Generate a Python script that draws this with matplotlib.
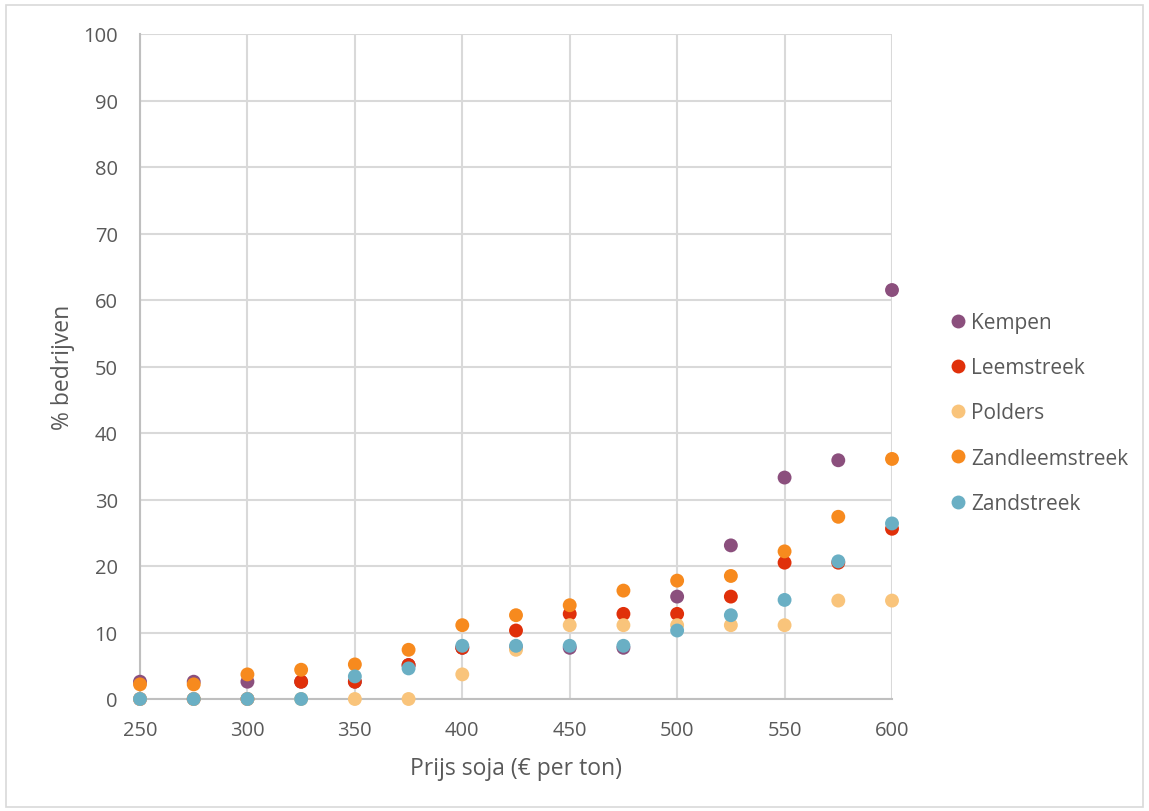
import matplotlib
matplotlib.use("Agg")
import matplotlib.pyplot as plt
from matplotlib.patches import Rectangle
from matplotlib.lines import Line2D

plt.rcParams['font.family'] = ['Open Sans', 'DejaVu Sans']

prices = [250, 275, 300, 325, 350, 375, 400, 425, 450, 475, 500, 525, 550, 575, 600]
kempen = [2.6, 2.6, 2.6, 2.6, 2.6, 5.1, 7.7, 7.7, 7.7, 7.7, 15.4, 23.1, 33.3, 35.9, 61.5]
leemstreek = [0, 0, 0, 2.6, 2.6, 5.1, 7.7, 10.3, 12.8, 12.8, 12.8, 15.4, 20.5, 20.5, 25.6]
polders = [0, 0, 0, 0, 0, 0, 3.7, 7.4, 11.1, 11.1, 11.1, 11.1, 11.1, 14.8, 14.8]
zandleem = [2.2, 2.2, 3.7, 4.4, 5.2, 7.4, 11.1, 12.6, 14.1, 16.3, 17.8, 18.5, 22.2, 27.4, 36.1]
zandstreek = [0, 0, 0, 0, 3.4, 4.6, 8.0, 8.0, 8.0, 8.0, 10.3, 12.6, 14.9, 20.7, 26.4]

series = [
    ("Kempen", kempen, "#8B4F7D"),
    ("Leemstreek", leemstreek, "#E0300A"),
    ("Polders", polders, "#F9C47B"),
    ("Zandleemstreek", zandleem, "#F78A1E"),
    ("Zandstreek", zandstreek, "#6AAFC4"),
]

fig = plt.figure(figsize=(11.49, 8.12), dpi=100)
ax = fig.add_axes([140/1149, 1-700/812, (892-140)/1149, (700-35)/812])

for name, vals, col in series:
    ax.scatter(prices, vals, s=100, color=col, edgecolors='none', label=name, zorder=3, clip_on=False)

ax.set_xlim(250, 600)
ax.set_ylim(0, 100)
ax.set_xticks(range(250, 601, 50))
ax.set_yticks(range(0, 101, 10))
ax.grid(True, color="#D9D9D9", linewidth=1.5, zorder=0)
ax.set_axisbelow(True)
for side in ['top', 'right']:
    ax.spines[side].set_visible(False)
for side in ['left', 'bottom']:
    ax.spines[side].set_color("#BFBFBF")
    ax.spines[side].set_linewidth(1.5)
ax.tick_params(length=0, labelsize=14.5, colors="#595959")
ax.tick_params(axis='x', pad=15)
ax.tick_params(axis='y', pad=16)
ax.set_xlabel("Prijs soja (€ per ton)", fontsize=16.5, color="#595959", labelpad=12)
ax.set_ylabel("% bedrijven", fontsize=16.5, color="#595959", labelpad=6)

handles = [Line2D([], [], marker='o', linestyle='none', markersize=10, markerfacecolor=c,
                  markeredgecolor='none') for _, _, c in series]
leg = fig.legend(handles, [n for n, _, _ in series], loc='center left',
                 bbox_to_anchor=(935/1149, 1-414/812), frameon=False, fontsize=15,
                 handletextpad=0.05, labelspacing=1.16, handlelength=1.2, borderpad=0)
for t in leg.get_texts():
    t.set_color("#595959")

fig.patches.append(Rectangle((6/1149, 4/812), 1-12/1149, 1-10/812, transform=fig.transFigure,
                             fill=False, edgecolor="#D9D9D9", linewidth=1.2))

fig.savefig("out.png", dpi=100)
